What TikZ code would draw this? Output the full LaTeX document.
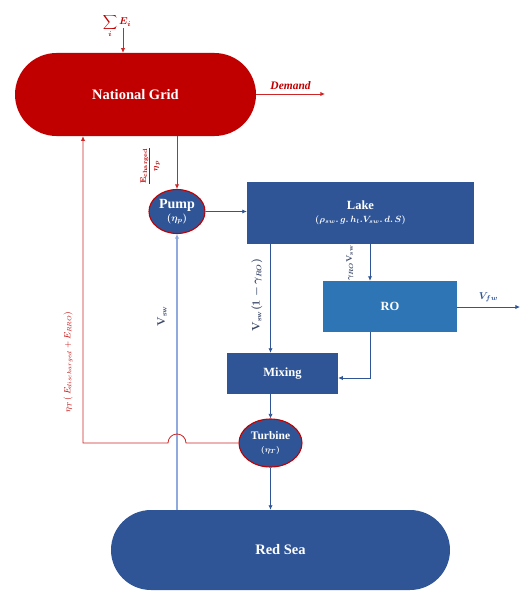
\documentclass[tikz,border=0pt]{standalone}
\usepackage{amsmath,amssymb,bm}
\usepackage{fontspec}
\setmainfont{Liberation Serif}
\usetikzlibrary{arrows.meta,calc,positioning,shapes.geometric}
\definecolor{gridred}{RGB}{192,0,0}
\definecolor{linkred}{RGB}{205,38,38}
\definecolor{seablue}{RGB}{47,85,151}
\definecolor{roblue}{RGB}{46,117,182}
\definecolor{linkblue}{RGB}{47,85,151}
\definecolor{palelink}{RGB}{143,170,220}
\definecolor{labgrey}{RGB}{59,72,104}
\tikzset{
  stadium/.style={draw=none, text=white, align=center,
                  font=\bfseries\fontsize{14.5}{16}\selectfont},
  unitbox/.style={draw=none, fill=seablue, text=white, align=center,
                  font=\bfseries\fontsize{12.5}{14}\selectfont},
  machine/.style={ellipse, draw=gridred, line width=1.1pt, fill=seablue,
                  text=white, align=center, inner sep=0pt},
  flow/.style={-{Latex[length=1.6mm,width=1.5mm]}, line width=0.8pt, draw=linkblue},
  paleflow/.style={flow, draw=palelink, line width=1.1pt},
  redflow/.style={flow, draw=linkred},
  eqlab/.style={font=\fontsize{10.5}{12}\selectfont\boldmath, text=labgrey},
}

\begin{document}
\begin{tikzpicture}[x=1pt,y=-1pt]
  \path[use as bounding box] (0,0) rectangle (521,591);

  % power side
  \node[stadium, fill=gridred, minimum width=241pt, minimum height=83pt,
        rounded corners=41.5pt] (grid) at (135.5,94.5) {National Grid};
  \node[text=gridred, font=\normalsize\boldmath] (sumE) at (117,26) {$\displaystyle\sum_{i} E_i$};
  \coordinate (sumtip) at (123,28);
  \draw[redflow] (sumtip) -- (sumtip |- grid.north);
  \coordinate (demand) at (325,94);
  \draw[redflow] (grid.east |- demand) -- (demand)
    node[midway, above=1pt, text=gridred, font=\bfseries\itshape\fontsize{11.5}{13}\selectfont] {Demand};

  % water side
  \node[machine, minimum width=56pt, minimum height=44pt] (pump) at (177,211.5)
    {\fontsize{14}{15}\selectfont\textbf{Pump}\\[1pt]{\boldmath$(\eta_p)$}};
  \node[unitbox, minimum width=227pt, minimum height=62pt] (lake) at (360.5,213)
    {Lake\\[-1pt]{\small\boldmath$(\rho_{sw}.\,g.\,h_l.V_{sw}.\,d.\,S)$}};
  \node[unitbox, fill=roblue, minimum width=134pt, minimum height=51pt] (ro) at (390,306.5) {RO};
  \node[unitbox, minimum width=111pt, minimum height=41pt] (mix) at (282.5,373.5) {Mixing};
  \node[machine, minimum width=63pt, minimum height=48pt] (turb) at (270.5,443)
    {\fontsize{11.5}{12}\selectfont\textbf{Turbine}\\[1pt]{\footnotesize\boldmath$(\eta_T)$}};
  \node[stadium, fill=seablue, minimum width=339pt, minimum height=80pt,
        rounded corners=40pt] (sea) at (280.5,550) {Red Sea};

  \draw[redflow] (grid.south -| pump.north) -- (pump.north);
  \node[rotate=90, text=gridred, font=\footnotesize\boldmath] (chlab) at (150,166)
    {$\dfrac{\mathbf{E}_{\mathbf{charged}}}{\eta_p}$};
  \draw[flow] (pump.east) -- (lake.west |- pump.east);
  \draw[flow] ([xshift=-20pt]ro.north |- lake.south) -- ([xshift=-20pt]ro.north);
  \node[eqlab, rotate=90, font=\footnotesize\boldmath] (rolab) at (350,263)
    {$\gamma_{RO}\mathbf{V}_{\mathbf{sw}}$};
  \draw[flow] (turb |- lake.south) -- (turb |- mix.north);
  \node[eqlab, rotate=90] (mixlab) at (257,295)
    {$\mathbf{V}_{\mathbf{sw}}(1-\gamma_{RO})$};
  \draw[flow] ([xshift=-20pt]ro.south) |- ([yshift=-4.5pt]mix.east);
  \coordinate (vfw) at (520,307);
  \draw[flow] (ro.east |- vfw) -- (vfw)
    node[midway, above=1pt, text=linkblue, font=\normalsize\boldmath] {$V_{fw}$};
  \draw[flow] (mix.south -| turb) -- (turb.north);
  \draw[flow] (turb.south) -- (turb |- sea.north);
  \draw[paleflow] (sea.north -| pump) -- (pump.south);
  \node[eqlab, rotate=90] (swlab) at (162,316) {$\mathbf{V}_{\mathbf{sw}}$};

  % turbine energy back to the grid
  \coordinate (ret) at (83,443);
  \draw[redflow] (turb.west) -- ([xshift=9pt]turb.west -| pump.south)
    arc[start angle=0, end angle=180, radius=9pt] -- (ret) -- (ret |- grid.south);
  \node[rotate=90, text=gridred, font=\small] (retlab) at (68,362)
    {$\eta_T\,(\,E_{discharged}+E_{RRO})$};
\end{tikzpicture}
\end{document}
